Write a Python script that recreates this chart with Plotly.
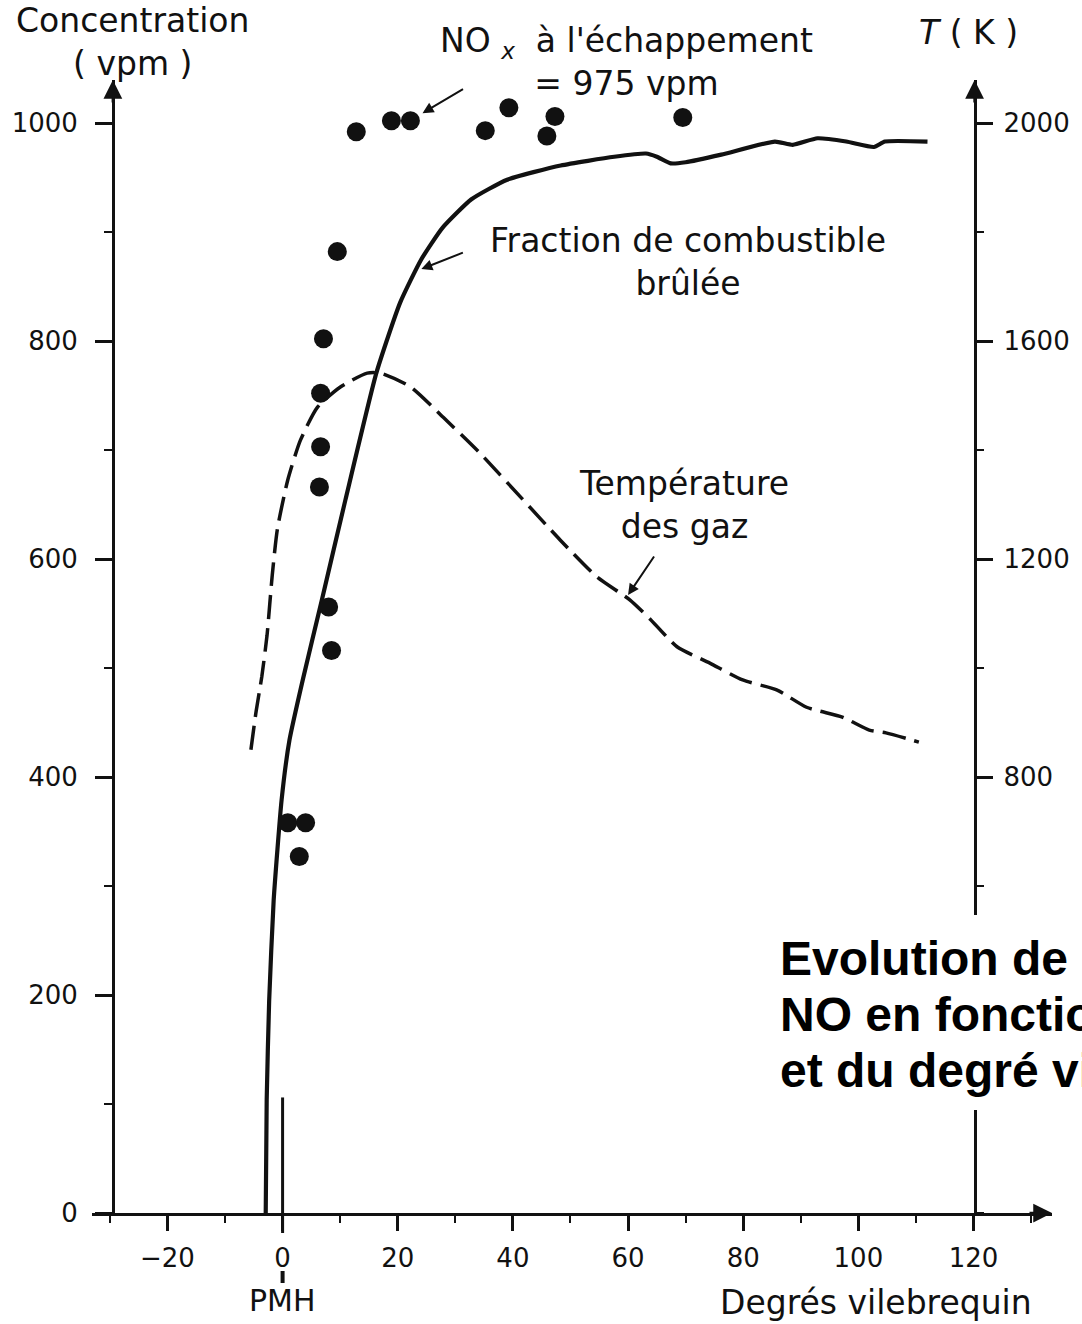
import plotly.graph_objects as go

# ---------------- data ----------------
# NOx measurements (vpm) vs crank angle (degrees)
nox_deg = [12.8, 18.9, 22.2, 35.2, 39.3, 45.9, 47.3, 69.5,
           9.5, 7.1, 6.6, 6.6, 6.4, 8.0, 8.5, 0.9, 4.0, 2.9]
nox_vpm = [992, 1002, 1002, 993, 1014, 988, 1006, 1005,
           882, 802, 752, 703, 666, 556, 516, 358, 358, 327]

# Burned fuel fraction curve (drawn on the concentration scale)
burn_deg = [-2.93, -2.76, -2.33, -1.55, -0.17, 1.2, 3.5, 6.8, 10.9, 16.3, 20.4,
            24.1, 27.8, 32.8, 39.0, 48.3, 57.6, 63.1, 65.0, 67.4, 70.0, 76.2,
            85.5, 88.6, 92.9, 97.9, 102.7, 104.6, 112.0]
burn_vpm = [0, 104, 195, 287, 379, 434, 489, 562, 654, 771, 835,
            875, 904, 930, 948, 961, 969, 972, 969, 963, 964, 971,
            983, 980, 986, 983, 978, 983, 983]

# Gas temperature (K)
temp_deg = [-5.5, -4.6, -3.6, -2.7, -1.8, -0.9, 0.9, 3.1, 6.1, 10.1, 14.7, 17.0,
            22.2, 27.9, 34.3, 41.3, 48.2, 54.6, 60.3, 63.8, 68.5, 74.2, 79.9,
            85.8, 91.0, 97.2, 101.9, 104.8, 110.5]
temp_K = [850, 920, 985, 1060, 1170, 1255, 1345, 1418, 1479, 1516, 1541, 1541,
          1516, 1460, 1394, 1314, 1235, 1167, 1125, 1090, 1039, 1009, 978,
          960, 928, 910, 886, 881, 864]

# PMH (top dead centre) marker
pmh_deg = [0, 0]
pmh_vpm = [0, 106]

x_ticks = [-20, 0, 20, 40, 60, 80, 100, 120]
y_ticks = [0, 200, 400, 600, 800, 1000]
y2_ticks = [800, 1200, 1600, 2000]

caption_lines = ["Evolution de la concentration de",
                 "NO en fonction de la température",
                 "et du degré vilebrequin"]

# ---------------- layout geometry ----------------
W, H = 1082, 1324
L, R, T, B = 90, 25, 80, 111
PW, PH = W - L - R, H - T - B
PX_PER_DEG = 5.8
PX_PER_VPM = 1.09
X0 = -33.1
XR = [X0, X0 + PW / PX_PER_DEG]
YR = [0, PH / PX_PER_VPM]
Y2R = [0, 2 * YR[1]]


def px(x):
    return (x - L) / PW


def py(y):
    return (H - B - y) / PH


def xdata_to_paper(v):
    return (v - XR[0]) / (XR[1] - XR[0])


INK = "#111111"
FONT = "DejaVu Sans"

fig = go.Figure()

fig.add_trace(go.Scatter(x=temp_deg, y=temp_K, yaxis="y2", mode="lines",
                         line=dict(color=INK, width=3.5, dash="24px,9px",
                                   shape="spline", smoothing=0.6),
                         hoverinfo="skip"))
fig.add_trace(go.Scatter(x=burn_deg, y=burn_vpm, mode="lines",
                         line=dict(color=INK, width=4.2, shape="spline", smoothing=0.5),
                         hoverinfo="skip"))
fig.add_trace(go.Scatter(x=pmh_deg, y=pmh_vpm, mode="lines",
                         line=dict(color=INK, width=3), hoverinfo="skip"))
fig.add_trace(go.Scatter(x=nox_deg, y=nox_vpm, mode="markers",
                         marker=dict(color=INK, size=19), hoverinfo="skip"))

axis_common = dict(showline=True, linecolor=INK, linewidth=2.5, ticks="outside",
                   tickcolor=INK, tickwidth=2.5, showgrid=False, zeroline=False,
                   tickfont=dict(family=FONT, size=26, color=INK))

fig.update_layout(
    width=W, height=H,
    margin=dict(l=L, r=R, t=T, b=B),
    paper_bgcolor="white", plot_bgcolor="white",
    showlegend=False,
    xaxis=dict(range=XR, tickvals=x_ticks, ticklen=15, ticklabelstandoff=5,
               minor=dict(ticks="outside", dtick=10, tick0=0, ticklen=7,
                          tickwidth=2, tickcolor=INK),
               **axis_common),
    yaxis=dict(range=YR, tickvals=y_ticks, ticklen=17, anchor="free",
               position=px(111), ticklabelstandoff=12,
               minor=dict(ticks="outside", dtick=100, tick0=0, ticklen=8,
                          tickwidth=2, tickcolor=INK),
               **axis_common),
    yaxis2=dict(range=Y2R, tickvals=y2_ticks, ticklen=17, overlaying="y",
                side="right", anchor="free", position=px(979),
                ticklabelstandoff=5,
                minor=dict(ticks="outside", dtick=200, tick0=0, ticklen=8,
                           tickwidth=2, tickcolor=INK),
                **axis_common),
)

# longer tick at 0 and PMH dash
x0p = xdata_to_paper(0)
fig.add_shape(type="line", xref="paper", yref="paper", x0=x0p, x1=x0p,
              y0=0, y1=py(1233), line=dict(color=INK, width=3))
fig.add_shape(type="line", xref="paper", yref="paper", x0=x0p, x1=x0p,
              y0=py(1271), y1=py(1283), line=dict(color=INK, width=4))
# white panel behind the overlay caption
fig.add_shape(type="rect", xref="paper", yref="paper", layer="above",
              x0=px(772), x1=px(W), y0=py(1110), y1=py(915),
              fillcolor="white", line=dict(width=0))

ann = []
# axis arrowheads
for (xa, ya, axo, ayo) in [(1, 0, -24, 0), (px(111), 1, 0, 24), (px(979), 1, 0, 24)]:
    ann.append(dict(xref="paper", yref="paper", x=xa, y=ya, ax=axo, ay=ayo,
                    text="", showarrow=True, arrowhead=2, arrowsize=1.5,
                    arrowwidth=2.5, arrowcolor=INK))


def label(text, x, y, size=33, **kw):
    d = dict(xref="paper", yref="paper", x=px(x), y=py(y), text=text,
             showarrow=False, xanchor="center", yanchor="middle",
             font=dict(family=FONT, size=size, color=INK), align="center")
    d.update(kw)
    return d


ann.append(label("Concentration<br>( vpm )", 131, 42))
ann.append(label("NO <sub><i>x</i></sub>  à l'échappement<br>= 975 vpm", 628, 62))
ann.append(label("<i>T</i> ( K )", 973, 33))
ann.append(label("Fraction de combustible<br>brûlée", 690, 262))
ann.append(label("Température<br>des gaz", 686, 505))
ann.append(label("Degrés vilebrequin", 880, 1302))
ann.append(label("PMH", 282, 1300, size=30))

# pointer arrows
ann.append(dict(xref="x", yref="y", x=24.3, y=1009, ax=42, ay=-25, text="",
                showarrow=True, arrowhead=2, arrowsize=1.1, arrowwidth=2,
                arrowcolor=INK))
ann.append(dict(xref="x", yref="y", x=24.1, y=866, ax=43, ay=-17, text="",
                showarrow=True, arrowhead=2, arrowsize=1.1, arrowwidth=2,
                arrowcolor=INK))
ann.append(dict(xref="x", yref="y2", x=60.0, y=1134, ax=27, ay=-40, text="",
                showarrow=True, arrowhead=2, arrowsize=1.1, arrowwidth=2,
                arrowcolor=INK))

# overlay caption (cut by the right edge), one line per annotation
for i, line_txt in enumerate(caption_lines):
    ann.append(dict(xref="paper", yref="paper", x=px(782), y=py(958 + 56 * i),
                    xanchor="left", yanchor="middle", showarrow=False,
                    align="left", text="<b>" + line_txt + "</b>",
                    font=dict(family="Liberation Sans", size=48, color="black"),
                    borderpad=0))

fig.update_layout(annotations=ann)

fig.write_html("out.html", config={"displayModeBar": False})
